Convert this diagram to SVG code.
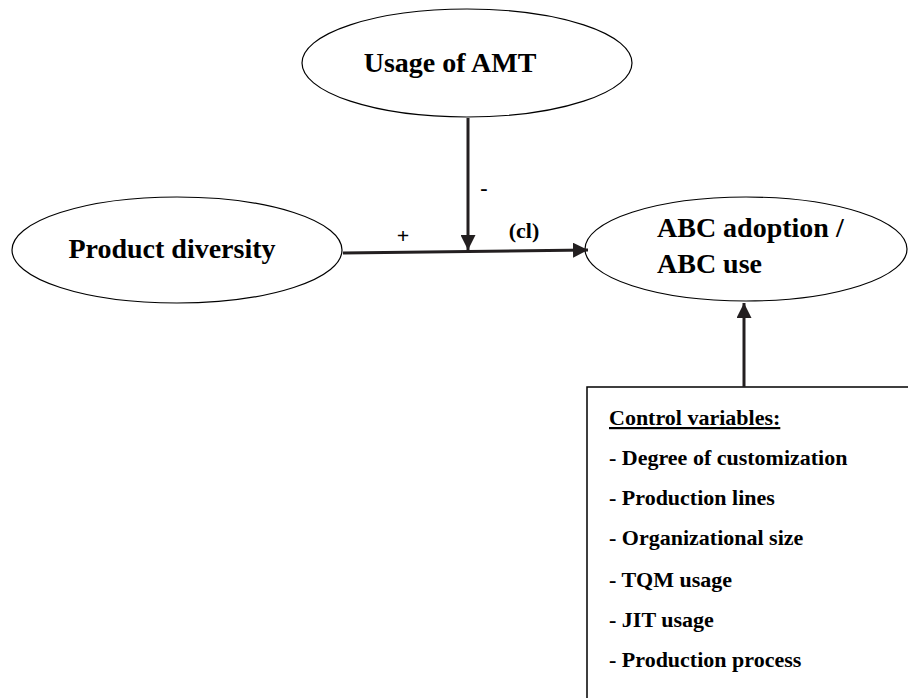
<svg xmlns="http://www.w3.org/2000/svg" width="908" height="698" viewBox="0 0 908 698">
<style>
.node ellipse{fill:#fff;stroke:#000;stroke-width:1.2}
text{font-family:'Liberation Serif','Times New Roman',serif;font-weight:bold;fill:#000}
.big{font-size:28px}
.lbl{font-size:22px}
.box{font-size:22px}
.conn line{stroke:#231f20;stroke-width:3}
</style>
<defs>
<marker id="ah" viewBox="0 0 10 10" refX="10" refY="5" markerWidth="5" markerHeight="5" orient="auto" markerUnits="strokeWidth">
<path d="M0,0 L10,5 L0,10 Z" fill="#231f20"/>
</marker>
</defs>
<rect width="908" height="698" fill="#fff"/>
<g id="amt" class="node">
<ellipse cx="467" cy="63" rx="165" ry="54"/>
<text class="big" x="450" y="72" text-anchor="middle">Usage of AMT</text>
</g>
<g id="pd" class="node">
<ellipse cx="177" cy="250" rx="165" ry="53"/>
<text class="big" x="172" y="258" text-anchor="middle">Product diversity</text>
</g>
<g id="abc" class="node">
<ellipse cx="746" cy="249" rx="161" ry="52"/>
<text class="big" x="657" y="237">ABC adoption /</text>
<text class="big" x="657" y="273">ABC use</text>
</g>
<g id="controls">
<rect x="587" y="387" width="330" height="330" fill="#fff" stroke="#000" stroke-width="1.5"/>
<text class="box" x="609" y="425" text-decoration="underline">Control variables:</text>
<text class="box" x="609" y="465">- Degree of customization</text>
<text class="box" x="609" y="505">- Production lines</text>
<text class="box" x="609" y="545">- Organizational size</text>
<text class="box" x="609" y="587">- TQM usage</text>
<text class="box" x="609" y="627">- JIT usage</text>
<text class="box" x="609" y="667">- Production process</text>
</g>
<g id="connectors" class="conn">
<line x1="343" y1="253" x2="588" y2="250" marker-end="url(#ah)"/>
<line x1="468" y1="118" x2="468" y2="250" marker-end="url(#ah)"/>
<line x1="744" y1="387" x2="744" y2="303" marker-end="url(#ah)"/>
</g>
<g id="labels">
<text class="lbl" x="403" y="243" text-anchor="middle">+</text>
<text class="lbl" x="484" y="195" text-anchor="middle">-</text>
<text class="lbl" x="524" y="238" text-anchor="middle">(cl)</text>
</g>
</svg>
